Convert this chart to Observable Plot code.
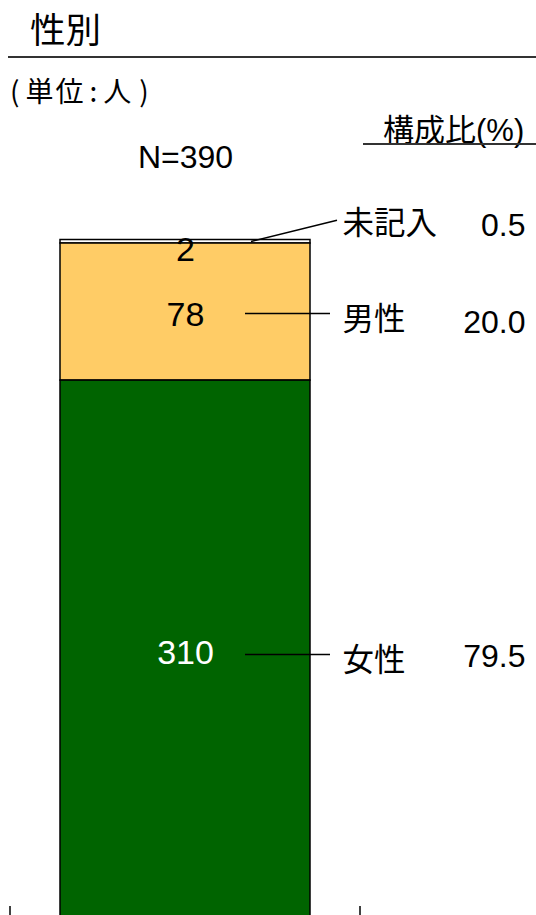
<!DOCTYPE html>
<html>
<head>
<meta charset="utf-8">
<script src="https://cdn.jsdelivr.net/npm/d3@7"></script>
<script src="https://cdn.jsdelivr.net/npm/@observablehq/plot@0.6"></script>
<style>
html, body { margin: 0; padding: 0; background: #fff; overflow: hidden; width: 536px; height: 915px; }
#wrap { position: relative; width: 536px; height: 915px; }
#chart { position: absolute; left: 0; top: 0; }
#chart svg { display: block; }
.jp { font-family: "Noto Sans CJK JP", sans-serif; color: #000; position: absolute; white-space: nowrap; line-height: 1; }
#title { left: 30px; top: 10px; font-size: 35.5px; }
#titleRule { position: absolute; left: 8px; width: 528px; top: 56px; border-top: 2px solid #333; }
#unit { left: 10px; top: 76px; font-size: 28px; letter-spacing: 2px; }
#unit .l { margin-right: 4px; }
#unit .c { margin: 0 4px; }
#unit .r { margin-left: 6px; }
#ratio { left: 383px; top: 112px; font-size: 31px; }
#ratio .num { font-family: "Liberation Sans", Arial, sans-serif; }
#ratioRule { position: absolute; left: 363px; width: 173px; top: 143px; border-top: 2px solid #333; }
</style>
</head>
<body>
<div id="wrap">
  <div id="chart"></div>
  <div id="title" class="jp">性別</div>
  <div id="titleRule"></div>
  <div id="unit" class="jp"><span class="l">(</span>単位<span class="c">:</span>人<span class="r">)</span></div>
  <div id="ratio" class="jp">構成比<span class="num">(%)</span></div>
  <div id="ratioRule"></div>
</div>
<script>
// ---- data ----
const groups = ["N=390"];
const categories = ["未記入", "男性", "女性"];
const counts = [2, 78, 310];
const percents = ["0.5", "20.0", "79.5"];
const colors = ["#ffffff", "#ffcc66", "#006400"];
const stackOrder = ["女性", "男性", "未記入"]; // bottom to top

const rows = categories.map((cat, i) => ({group: groups[0], cat, count: counts[i], pct: percents[i]}));

const sans = "'Liberation Sans', Arial, sans-serif";
const jp = "'Noto Sans CJK JP', sans-serif";

const stack = (extra) => Plot.stackY({x: "group", y: "count", z: "cat", order: stackOrder, ...extra});
const only = (cats, f) => d => cats.includes(d.cat) ? f(d) : "";

const total = d3.sum(counts);

const chart = Plot.plot({
  width: 536,
  height: 960,
  marginTop: 239.5,
  marginBottom: 35,
  marginLeft: 10,
  marginRight: 176,
  style: {fontFamily: sans, background: "transparent", overflow: "visible", color: "#000"},
  x: {type: "band", domain: groups, padding: 1 / 6, label: null},
  y: {domain: [0, total], axis: null},
  color: {domain: categories, range: colors},
  marks: [
    Plot.barY(rows, stack({fill: "cat", stroke: "black", strokeWidth: 1.5})),
    Plot.axisX({anchor: "top", tickSize: 0, tickPadding: 72, fontSize: 32, fontFamily: sans, label: null}),
    // counts inside bar
    Plot.text(rows, stack({text: only(["女性"], d => d.count), fill: "white", fontSize: 34, fontFamily: sans, dy: 0})),
    Plot.text(rows, stack({text: only(["男性"], d => d.count), fill: "black", fontSize: 34, fontFamily: sans, dy: 3})),
    Plot.text(rows, stack({text: only(["未記入"], d => d.count), fill: "black", fontSize: 34, fontFamily: sans, dy: 8})),
    // category names
    Plot.text(rows, stack({text: only(["未記入"], d => d.cat), fill: "black", fontSize: 31.5, fontFamily: jp, textAnchor: "start", dx: 157, dy: -18})),
    Plot.text(rows, stack({text: only(["男性", "女性"], d => d.cat), fill: "black", fontSize: 31.5, fontFamily: jp, textAnchor: "start", dx: 157, dy: 8})),
    // percentages
    Plot.text(rows, stack({text: only(["未記入"], d => d.pct), fill: "black", fontSize: 32, fontFamily: sans, textAnchor: "end", dx: 340, dy: -16})),
    Plot.text(rows, stack({text: only(["男性"], d => d.pct), fill: "black", fontSize: 32, fontFamily: sans, textAnchor: "end", dx: 340, dy: 11})),
    Plot.text(rows, stack({text: only(["女性"], d => d.pct), fill: "black", fontSize: 32, fontFamily: sans, textAnchor: "end", dx: 340, dy: 4}))
  ]
});

document.getElementById("chart").appendChild(chart);

// leader lines and category-boundary ticks, positioned through Plot's scales
const xs = chart.scale("x");
const ys = chart.scale("y");
const cx = xs.apply(groups[0]) + xs.bandwidth / 2;
let acc = 0;
const mids = {};
for (const c of stackOrder) {
  const v = counts[categories.indexOf(c)];
  mids[c] = acc + v / 2;
  acc += v;
}
const svg = d3.select(chart);
const g = svg.append("g").attr("stroke", "black").attr("stroke-width", 1.5).attr("fill", "none");
for (const c of ["男性", "女性"]) {
  const y = ys.apply(mids[c]) + 2;
  g.append("line").attr("x1", cx + 60).attr("x2", cx + 145).attr("y1", y).attr("y2", y);
}
g.append("line")
  .attr("x1", cx + 66).attr("y1", ys.apply(total) + 2)
  .attr("x2", cx + 152).attr("y2", ys.apply(mids["未記入"]) - 21);
const y0 = ys.apply(0);
for (const xv of xs.range) {
  g.append("line").attr("x1", xv).attr("x2", xv).attr("y1", y0 - 19).attr("y2", y0 + 19);
}
</script>
</body>
</html>
